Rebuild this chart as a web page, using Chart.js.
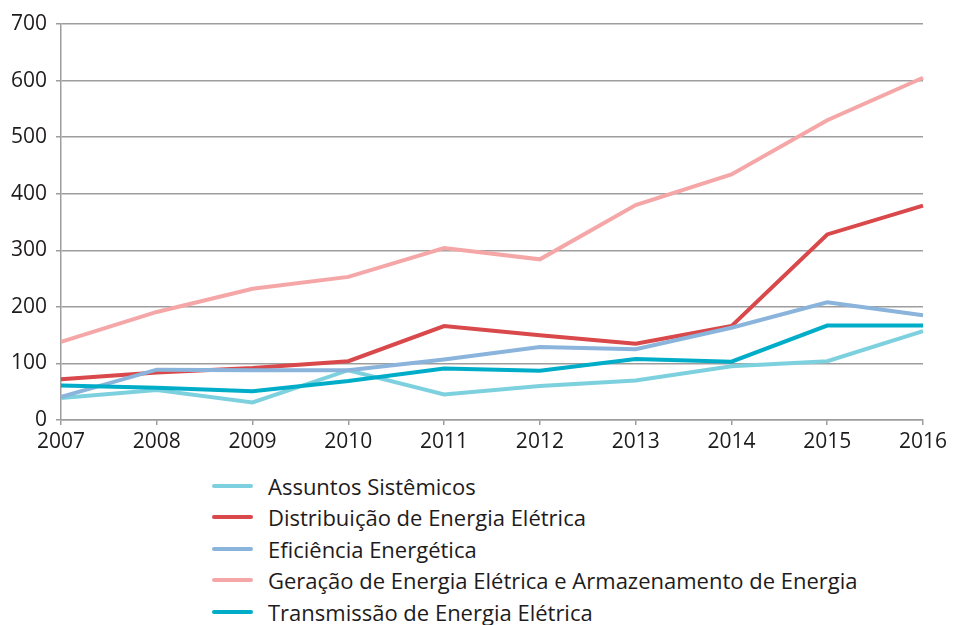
<!DOCTYPE html>
<html>
<head>
<meta charset="utf-8">
<script src="https://cdn.jsdelivr.net/npm/chart.js@4/dist/chart.umd.min.js"></script>
<style>
  html, body { margin: 0; padding: 0; background: #fff; }
  #wrap { position: relative; width: 959px; height: 460px; }
  #legend { position: absolute; left: 212px; top: 470px; font-family: "Open Sans", sans-serif; font-size: 22px; color: #1e1b1c; }
  .item { display: flex; align-items: center; height: 31.5px; }
  .swatch { width: 41px; height: 4px; border-radius: 2px; margin-right: 15px; }
</style>
</head>
<body>
<div id="wrap"><canvas id="c"></canvas></div>
<div id="legend"></div>
<script>
const years = ['2007','2008','2009','2010','2011','2012','2013','2014','2015','2016'];
const seriesNames = [
  'Assuntos Sistêmicos',
  'Distribuição de Energia Elétrica',
  'Eficiência Energética',
  'Geração de Energia Elétrica e Armazenamento de Energia',
  'Transmissão de Energia Elétrica'
];
const assuntos     = [39, 53, 31, 88, 45, 60, 70, 95, 104, 157];
const distribuicao = [72, 84, 92, 104, 166, 150, 135, 166, 328, 379];
const eficiencia   = [41, 89, 88, 88, 107, 129, 125, 163, 208, 185];
const geracao      = [138, 191, 232, 253, 304, 284, 380, 434, 530, 605];
const transmissao  = [61, 57, 51, 69, 91, 87, 108, 103, 167, 167];
const yTicks = [0, 100, 200, 300, 400, 500, 600, 700];
const colors = ['#7dd0de', '#d9484a', '#8ab4db', '#f5a7a8', '#00adc8'];

const values = [assuntos, distribuicao, eficiencia, geracao, transmissao];
const drawOrder = [5, 3, 2, 4, 1];

const chart = new Chart(document.getElementById('c'), {
  type: 'line',
  data: {
    labels: years,
    datasets: values.map((v, i) => ({
      label: seriesNames[i],
      data: v,
      borderColor: colors[i],
      backgroundColor: colors[i],
      borderWidth: 4,
      pointRadius: 0,
      tension: 0,
      fill: false,
      order: drawOrder[i]
    }))
  },
  options: {
    responsive: true,
    maintainAspectRatio: false,
    animation: false,
    layout: { padding: { left: 0, right: 36, top: 24, bottom: 0 } },
    plugins: { legend: { display: false }, tooltip: { enabled: false } },
    scales: {
      x: {
        offset: false,
        afterFit: (s) => { s.height = 40; },
        grid: { drawOnChartArea: false, drawTicks: true, tickLength: 5, color: '#9d9d9d', lineWidth: 1.5 },
        border: { display: true, color: '#9d9d9d', width: 1.5 },
        ticks: { color: '#1e1b1c', font: { family: 'Open Sans', size: 21 }, padding: 4, maxRotation: 0 }
      },
      y: {
        min: 0, max: 700,
        afterBuildTicks: (s) => { s.ticks = yTicks.map(v => ({ value: v })); },
        afterFit: (s) => { s.width = 61; },
        grid: { color: '#9d9d9d', lineWidth: 1.5, tickLength: 5 },
        border: { display: true, color: '#9d9d9d', width: 1.5 },
        ticks: { color: '#1e1b1c', font: { family: 'Open Sans', size: 21 }, padding: 9 }
      }
    }
  }
});

const legend = document.getElementById('legend');
chart.data.datasets.forEach(ds => {
  const row = document.createElement('div');
  row.className = 'item';
  const sw = document.createElement('span');
  sw.className = 'swatch';
  sw.style.background = ds.borderColor;
  const tx = document.createElement('span');
  tx.textContent = ds.label;
  row.appendChild(sw);
  row.appendChild(tx);
  legend.appendChild(row);
});
</script>
</body>
</html>
